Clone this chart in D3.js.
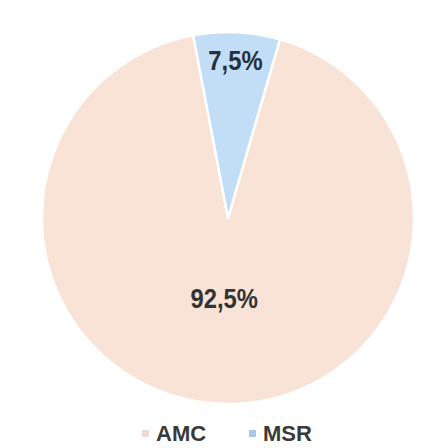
<!DOCTYPE html>
<html>
<head>
<meta charset="utf-8">
<script src="https://cdn.jsdelivr.net/npm/d3@7"></script>
<style>
  body { margin: 0; background: #fff; }
  svg { display: block; }
</style>
</head>
<body>
<div id="chart"></div>
<script>
const categories = ["AMC", "MSR"];
const values = [92.5, 7.5];
const labels = ["92,5%", "7,5%"];

const config = {
  width: 447,
  height: 448,
  cx: 228,
  cy: 218,
  radius: 186,
  colours: ["#f9e2d6", "#c2ddf6"],
  legendColours: ["#eddbd2", "#a8c8e6"],
  startAngle: 16.2 * Math.PI / 180
};

const svg = d3.select("#chart").append("svg")
  .attr("width", config.width)
  .attr("height", config.height);

const data = categories.map((c, i) => ({ name: c, value: values[i], label: labels[i] }));

const pie = d3.pie()
  .sort(null)
  .value(d => d.value)
  .startAngle(config.startAngle)
  .endAngle(config.startAngle + 2 * Math.PI);

const arc = d3.arc().innerRadius(0).outerRadius(config.radius);

const g = svg.append("g")
  .attr("transform", `translate(${config.cx},${config.cy})`);

const slices = pie(data);

g.selectAll("path")
  .data(slices)
  .enter()
  .append("path")
  .attr("d", arc)
  .attr("fill", (d, i) => config.colours[i])
  .attr("stroke", "#fff")
  .attr("stroke-width", 2.5)
  .attr("stroke-linejoin", "round");

// label positions: big slice label lower, small slice label near the rim
const labelRadius = [0.43, 0.85];
g.selectAll("text.lbl")
  .data(slices)
  .enter()
  .append("text")
  .attr("class", "lbl")
  .attr("transform", (d, i) => {
    const a = (d.startAngle + d.endAngle) / 2;
    const r = config.radius * labelRadius[i];
    return `translate(${r * Math.sin(a)},${-r * Math.cos(a)}) scale(0.85,1)`;
  })
  .attr("text-anchor", "middle")
  .attr("dy", "0.36em")
  .attr("font-family", "Liberation Sans, Arial, sans-serif")
  .attr("font-weight", "bold")
  .attr("font-size", 28)
  .attr("fill", (d, i) => i === 1 ? "#25313d" : "#333333")
  .text(d => d.data.label);

// legend
const legendX = d3.scalePoint().domain(categories).range([142, 249]);
const legend = svg.append("g").attr("transform", "translate(0,441)");
const items = legend.selectAll("g")
  .data(categories)
  .enter()
  .append("g")
  .attr("transform", d => `translate(${legendX(d)},0)`);

items.append("rect")
  .attr("x", 0)
  .attr("y", -11)
  .attr("width", 7)
  .attr("height", 7)
  .attr("fill", (d, i) => config.legendColours[i]);

items.append("text")
  .attr("x", 14)
  .attr("y", 0)
  .attr("font-family", "Liberation Sans, Arial, sans-serif")
  .attr("font-weight", "bold")
  .attr("font-size", 22)
  .attr("fill", "#3a3a3a")
  .text(d => d);
</script>
</body>
</html>
